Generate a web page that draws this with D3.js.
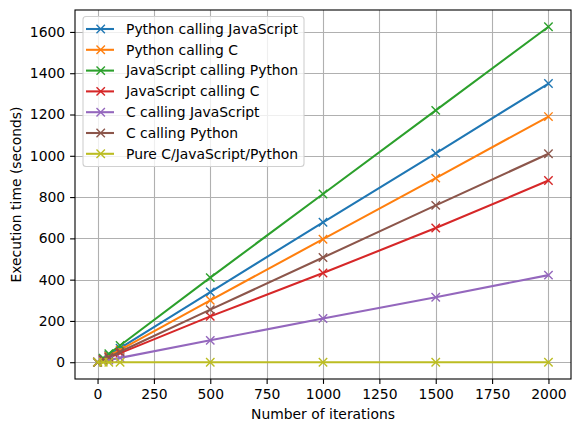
<!DOCTYPE html>
<html>
<head>
<meta charset="utf-8">
<script src="https://cdn.jsdelivr.net/npm/d3@7"></script>
<style>
  body { margin: 0; background: #fff; }
  svg { font-family: "DejaVu Sans", sans-serif; }
</style>
</head>
<body>
<div id="chart"></div>
<script>
// iterations on the x axis
const iterations = [0, 25, 50, 100, 500, 1000, 1500, 2000];

const seriesNames = [
  "Python calling JavaScript",
  "Python calling C",
  "JavaScript calling Python",
  "JavaScript calling C",
  "C calling JavaScript",
  "C calling Python",
  "Pure C/JavaScript/Python"
];

const pythonCallingJs = [0, 17, 34, 68, 340, 678, 1012, 1350];
const pythonCallingC = [0, 15, 30, 60, 300, 596, 892, 1190];
const jsCallingPython = [0, 20, 41, 81, 410, 815, 1220, 1625];
const jsCallingC = [0, 11, 22, 44, 222, 432, 650, 880];
const cCallingJs = [0, 5, 11, 21, 106, 212, 315, 422];
const cCallingPython = [0, 13, 25, 51, 255, 507, 760, 1010];
const pure = [0, 0, 0, 0, 0, 0, 0, 0];

const xTicks = [0, 250, 500, 750, 1000, 1250, 1500, 1750, 2000];
const yTicks = [0, 200, 400, 600, 800, 1000, 1200, 1400, 1600];

const colors = ["#1f77b4", "#ff7f0e", "#2ca02c", "#d62728", "#9467bd", "#8c564b", "#bcbd22"];

const allValues = [pythonCallingJs, pythonCallingC, jsCallingPython, jsCallingC, cCallingJs, cCallingPython, pure];
const series = seriesNames.map((name, i) => ({
  name: name,
  color: colors[i],
  points: iterations.map((x, j) => ({x: x, y: allValues[i][j]}))
}));

const width = 580, height = 432;
const margin = {left: 75, right: 9, top: 10, bottom: 53};
const fontSize = 13.9;

const svg = d3.select("#chart").append("svg")
  .attr("width", width)
  .attr("height", height);

const x = d3.scaleLinear().domain([-100, 2100]).range([margin.left, width - margin.right]);
const y = d3.scaleLinear().domain([-81.25, 1706.25]).range([height - margin.bottom, margin.top]);

// grid
const grid = svg.append("g").attr("stroke", "#b0b0b0").attr("stroke-width", 1.1);
grid.selectAll("line.gx").data(xTicks).join("line")
  .attr("x1", d => Math.round(x(d)) + 0.5).attr("x2", d => Math.round(x(d)) + 0.5)
  .attr("y1", y.range()[1]).attr("y2", y.range()[0]);
grid.selectAll("line.gy").data(yTicks).join("line")
  .attr("y1", d => Math.round(y(d)) + 0.5).attr("y2", d => Math.round(y(d)) + 0.5)
  .attr("x1", x.range()[0]).attr("x2", x.range()[1]);

// lines + markers
const line = d3.line().x(d => x(d.x)).y(d => y(d.y));
const plot = svg.append("g");
series.forEach(s => {
  const g = plot.append("g");
  g.append("path")
    .attr("d", line(s.points))
    .attr("fill", "none")
    .attr("stroke", s.color)
    .attr("stroke-width", 2.08);
  g.selectAll("path.m").data(s.points).join("path")
    .attr("class", "m")
    .attr("d", d => {
      const cx = x(d.x), cy = y(d.y), r = 4.2;
      return `M${cx - r},${cy - r}L${cx + r},${cy + r}M${cx - r},${cy + r}L${cx + r},${cy - r}`;
    })
    .attr("stroke", s.color)
    .attr("stroke-width", 1.4);
});

// axes
const xAxis = d3.axisBottom(x).tickValues(xTicks).tickFormat(d3.format("d")).tickSize(4.9).tickPadding(4.9);
const yAxis = d3.axisLeft(y).tickValues(yTicks).tickFormat(d3.format("d")).tickSize(4.9).tickPadding(4.9);

const gx = svg.append("g")
  .attr("transform", `translate(0,${height - margin.bottom})`)
  .call(xAxis);
const gy = svg.append("g")
  .attr("transform", `translate(${margin.left},0)`)
  .call(yAxis);

[gx, gy].forEach(g => {
  g.select(".domain").remove();
  g.selectAll("line").attr("stroke", "#000").attr("stroke-width", 1.1);
  g.selectAll("text").attr("fill", "#000").style("font-size", fontSize + "px")
    .style("font-family", "DejaVu Sans");
});

// frame
svg.append("rect")
  .attr("x", x.range()[0]).attr("y", y.range()[1])
  .attr("width", x.range()[1] - x.range()[0])
  .attr("height", y.range()[0] - y.range()[1])
  .attr("fill", "none").attr("stroke", "#000").attr("stroke-width", 1.1);

// axis labels
svg.append("text")
  .attr("x", (x.range()[0] + x.range()[1]) / 2)
  .attr("y", 419)
  .attr("text-anchor", "middle")
  .style("font-size", fontSize + "px")
  .text("Number of iterations");

svg.append("text")
  .attr("transform", `translate(21,${(y.range()[0] + y.range()[1]) / 2}) rotate(-90)`)
  .attr("text-anchor", "middle")
  .style("font-size", fontSize + "px")
  .text("Execution time (seconds)");

// legend
const legend = svg.append("g");
legend.append("rect")
  .attr("x", 83).attr("y", 16.5)
  .attr("width", 221).attr("height", 150)
  .attr("rx", 3)
  .attr("fill", "#fff").attr("fill-opacity", 0.8)
  .attr("stroke", "#d0d0d0").attr("stroke-width", 1.1);

const item = legend.selectAll("g.item").data(series).join("g")
  .attr("class", "item")
  .attr("transform", (d, i) => `translate(0,${29 + i * 20.8})`);
item.append("line")
  .attr("x1", 86).attr("x2", 114)
  .attr("stroke", d => d.color).attr("stroke-width", 2.08);
item.append("path")
  .attr("d", "M96.5,-4.2L104.9,4.2M96.5,4.2L104.9,-4.2")
  .attr("stroke", d => d.color).attr("stroke-width", 1.4);
item.append("text")
  .attr("x", 126).attr("dy", "0.35em")
  .style("font-size", fontSize + "px")
  .text(d => d.name);
</script>
</body>
</html>
